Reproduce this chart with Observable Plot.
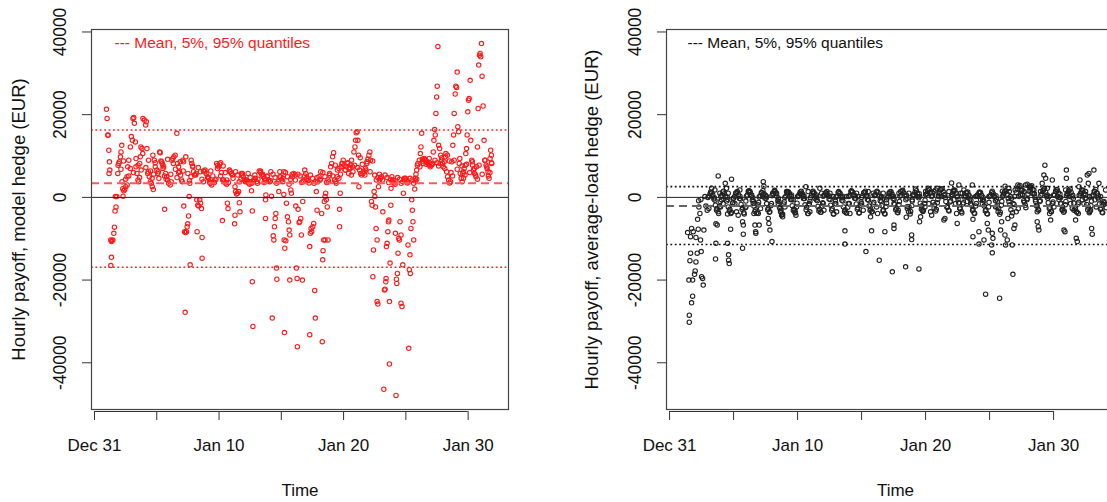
<!DOCTYPE html>
<html><head><meta charset="utf-8">
<script src="https://cdn.jsdelivr.net/npm/d3@7"></script>
<script src="https://cdn.jsdelivr.net/npm/@observablehq/plot@0.6"></script>
<style>
html,body{margin:0;padding:0;background:#fff;overflow:hidden;width:1107px;height:502px}
#wrap{position:relative;width:1107px;height:502px;overflow:hidden}
#left{position:absolute;left:0;top:0;width:555px;height:502px}
#right{position:absolute;left:555px;top:0;width:580px;height:502px}
#wrap svg{max-width:none !important;height:502px !important;font-family:"Liberation Sans",Arial,Helvetica,sans-serif}
</style></head><body><div id="wrap"><div id="left"></div><div id="right"></div></div>
<script>
// time = days since Dec 31 00:00 (hourly observations), payoff in EUR
const xTicks = [0, 5, 10, 15, 20, 25, 30];
const xTickLabels = ["Dec 31", "", "Jan 10", "", "Jan 20", "", "Jan 30"];
const yTicks = [-40000, -20000, 0, 20000, 40000];
const yTickLabels = ["-40000", "-20000", "0", "20000", "40000"];

const modelHedge = [[0.96,21300],[1.01,19100],[1.07,15000],[1.09,15100],[1.15,11400],[1.2,8600],[1.23,6600],[1.17,5800],[1.31,-10300],[1.36,-10700],[1.41,-10500],[1.47,-10300],[1.36,-14500],[1.31,-16500],[1.55,-8700],[1.6,-7200],[1.65,-3300],[1.73,-2300],[1.68,200],[1.79,200],[1.87,5800],[1.89,7800],[1.95,8200],[2.0,8600],[2.08,9800],[2.13,11000],[2.19,12600],[2.21,3800],[2.27,2100],[2.35,1600],[2.43,1900],[2.51,2600],[2.29,300],[2.61,5000],[2.67,7400],[2.75,9000],[2.88,12200],[2.96,14700],[3.04,13800],[3.09,19100],[3.15,19300],[3.2,17900],[3.28,13400],[3.33,7400],[3.41,5800],[3.49,4200],[3.55,3800],[3.63,8200],[3.68,9800],[3.73,12200],[3.81,11800],[3.89,19100],[4.0,18700],[4.11,17500],[4.16,18300],[4.21,11800],[4.27,5800],[4.32,6200],[4.4,5000],[4.48,3800],[4.56,3400],[4.64,2600],[4.72,1900],[4.69,10200],[4.8,9000],[4.88,7400],[5.01,6600],[5.09,5800],[5.17,4600],[5.23,11000],[5.28,10800],[5.39,8600],[5.44,8200],[5.49,7800],[5.55,7400],[5.63,-2900],[5.71,5800],[5.79,5000],[5.87,4200],[5.95,3400],[6.08,3000],[6.16,3800],[6.21,9000],[6.29,9400],[6.37,9800],[6.48,10200],[6.61,15500],[6.67,8200],[6.75,7400],[6.83,6200],[6.91,5400],[6.99,4200],[7.04,3800],[7.09,9000],[7.15,8600],[7.17,-2100],[7.23,-8300],[7.31,-8500],[7.39,-8300],[7.44,-7100],[7.49,-6400],[7.55,-4500],[7.28,-27800],[7.6,200],[7.65,3400],[7.68,-16300],[7.76,9000],[7.81,8200],[7.89,7400],[7.95,6200],[8.03,5400],[8.16,5800],[8.21,-600],[8.29,-1900],[8.37,-2100],[8.45,-600],[8.51,-1400],[8.59,-2700],[8.24,-8300],[8.64,-9700],[8.64,-14700],[8.75,6400],[8.85,6200],[8.96,5800],[9.07,5000],[9.15,4600],[9.23,3800],[9.28,3400],[9.33,3500],[9.41,3000],[9.55,3800],[9.68,4200],[9.81,8200],[9.89,7800],[9.97,7400],[10.05,8100],[10.13,8400],[10.19,6000],[10.27,-5600],[10.29,4200],[10.35,4200],[10.43,3800],[10.51,3500],[10.61,3200],[10.67,-1400],[10.72,-2700],[10.83,6600],[10.91,6200],[10.99,5800],[11.07,5400],[11.28,2600],[11.33,1400],[11.41,800],[11.49,1000],[11.57,1400],[11.28,-4300],[11.25,-6400],[11.63,-1300],[11.68,-3500],[11.79,5800],[11.87,5400],[11.95,5000],[12.03,4200],[12.11,3800],[12.21,4200],[12.29,3800],[12.37,3500],[12.45,3200],[12.53,3800],[12.61,1600],[12.67,-3300],[12.67,-20400],[12.72,-31200],[12.75,3800],[12.83,4200],[12.91,4600],[13.01,3800],[13.09,3400],[13.23,6400],[13.33,6000],[13.44,5400],[13.55,5000],[13.65,4600],[13.73,4200],[13.76,600],[13.73,-600],[13.73,-5100],[13.89,5000],[13.97,4200],[14.08,3800],[14.16,6200],[14.21,300],[14.27,-29200],[14.35,-9300],[14.4,-10300],[14.45,-7100],[14.51,-5100],[14.56,-3900],[14.61,-17100],[14.64,-19800],[14.8,1400],[14.88,6200],[14.96,5000],[15.04,4200],[15.12,3800],[15.2,6200],[15.2,700],[15.23,-10300],[15.28,-12300],[15.36,-10500],[15.25,-32700],[15.41,-1400],[15.49,-4700],[15.57,-5900],[15.63,-7900],[15.68,-9100],[15.68,-20000],[15.76,1800],[15.81,1000],[15.89,5000],[16.0,5800],[16.11,5400],[16.16,-2100],[16.21,-17100],[16.27,-19600],[16.29,-36100],[16.35,-2900],[16.43,-6100],[16.48,-5900],[16.56,-5100],[16.61,-9100],[16.69,-20000],[16.72,-1000],[16.75,3800],[16.88,6600],[16.96,5800],[17.04,4600],[17.15,4200],[17.23,3500],[17.28,-11900],[17.28,-33200],[17.33,-8700],[17.39,-7500],[17.44,-8300],[17.52,-7100],[17.6,-6300],[17.68,-22500],[17.73,-29200],[17.81,1400],[17.87,-3100],[17.92,3800],[18.03,5000],[18.11,4200],[18.16,6200],[18.24,-3900],[18.29,-34900],[18.32,-15100],[18.35,-12900],[18.4,-10300],[18.51,-10300],[18.45,-1000],[18.51,200],[18.56,1000],[18.61,-600],[18.69,-2300],[18.75,-10300],[18.8,3800],[18.88,5800],[18.96,7400],[19.04,8200],[19.12,9800],[19.2,10800],[19.28,4200],[19.36,3800],[19.41,3400],[19.49,5000],[19.63,7000],[19.68,-2900],[19.68,-7100],[19.73,1000],[19.81,7400],[19.89,8200],[19.97,9000],[20.05,7800],[20.13,6600],[20.21,7400],[20.32,8200],[20.4,5800],[20.48,7000],[20.56,7800],[20.64,9000],[20.72,7400],[20.83,11000],[20.91,12200],[20.96,13800],[21.01,15600],[21.09,15900],[21.15,13800],[21.2,10200],[21.23,2600],[21.28,6600],[21.36,5800],[21.44,5400],[21.55,5800],[21.63,6200],[21.71,5400],[21.79,6600],[21.87,8200],[21.95,9200],[22.03,10200],[22.11,11000],[22.16,9000],[22.24,-1000],[22.29,-1900],[22.35,-19200],[22.4,-12700],[22.45,1400],[22.51,200],[22.56,-2300],[22.61,-7500],[22.69,-10300],[22.69,-25200],[22.75,-25800],[22.8,2600],[22.88,4200],[22.96,4600],[23.04,5000],[23.15,-3500],[23.23,-46400],[23.28,-22400],[23.33,-22200],[23.39,-20400],[23.41,-19600],[23.44,-11900],[23.49,-11100],[23.55,-8300],[23.6,-5900],[23.63,-5500],[23.68,-40300],[23.68,-25200],[23.73,-15900],[23.79,-1900],[23.81,2200],[23.89,3800],[23.97,4200],[24.05,3500],[24.13,3200],[24.16,-8700],[24.21,-47900],[24.24,-19800],[24.27,-20800],[24.32,-18400],[24.37,-13500],[24.43,-9900],[24.48,-10300],[24.53,-5900],[24.61,-9100],[24.61,-25600],[24.69,-26400],[24.75,-16300],[24.8,1000],[24.88,4200],[24.96,4600],[25.04,4200],[25.12,3500],[25.17,-11500],[25.23,-36500],[25.28,-17500],[25.33,-13900],[25.36,-18400],[25.41,-7500],[25.47,-600],[25.52,-3100],[25.57,-5900],[25.63,-10300],[25.71,2000],[25.76,4600],[25.81,5600],[25.87,6600],[25.92,7800],[25.97,8200],[26.08,9000],[26.16,10600],[26.21,12200],[26.27,15500],[26.32,9200],[26.4,8200],[26.48,9400],[26.56,9000],[26.64,8600],[26.72,8400],[26.8,8200],[26.88,7800],[26.96,7400],[27.04,7800],[27.12,8200],[27.2,11000],[27.25,13800],[27.31,16400],[27.36,15100],[27.41,20300],[27.47,24300],[27.52,26900],[27.57,36500],[27.63,12600],[27.71,11800],[27.79,10200],[27.87,9000],[27.95,8200],[28.0,7400],[28.08,8600],[28.16,9800],[28.21,10600],[28.27,6200],[28.35,5000],[28.43,4200],[28.51,3500],[28.59,3800],[28.69,8600],[28.77,12600],[28.83,15100],[28.88,20300],[28.96,25000],[29.01,26900],[29.07,26600],[29.12,30300],[29.17,17100],[29.23,15900],[29.28,8200],[29.36,5800],[29.44,4600],[29.52,3800],[29.57,5800],[29.63,6200],[29.68,7000],[29.76,7800],[29.81,10600],[29.87,11800],[29.92,15100],[29.97,20700],[30.03,23500],[30.08,23900],[30.16,28300],[30.21,13800],[30.29,9000],[30.35,7800],[30.43,6600],[30.51,5800],[30.59,5400],[30.67,7400],[30.75,12200],[30.8,21500],[30.85,32000],[30.91,34400],[30.96,34800],[31.01,34000],[31.07,37200],[31.12,29300],[31.2,22100],[31.28,13800],[31.36,9000],[31.44,7800],[31.52,7000],[31.6,6200],[31.68,4600],[31.76,9400],[31.81,11400],[31.87,10200],[31.89,8200]];

// dense part of the model hedge payoffs: selected hours of each day
const modelBandDays = [2,3,4,5,6,7,8,9,10,11,12,13,14,15,16,17,18,19,20,21,22,23,24,25,26,27,28,29,30,31];
const modelBandHours = [3, 8, 12, 15, 18, 21];
const modelBandValues = [
  [6800,8800,4400,3000,5200,7000],
  [6000,9400,7800,4800,6600,10600],
  [7200,9000,6400,4600,5600,8400],
  [6200,8800,7000,5200,4400,9200],
  [5600,8200,6800,4800,6000,8600],
  [6400,9800,5800,4000,5000,7600],
  [5400,7200,6200,4400,3800,6600],
  [4800,6400,5200,3600,4400,7000],
  [5200,7600,6000,4200,3600,6200],
  [4600,6200,5400,3800,4400,5800],
  [4200,5800,4800,3400,4000,5400],
  [4400,6400,5600,3600,4200,5200],
  [4000,5600,4800,3400,3800,5000],
  [4600,6000,5000,3200,4400,5600],
  [4200,5600,5200,3600,4000,5200],
  [4000,5400,4600,3400,3800,4800],
  [4400,6000,5000,3600,4200,5400],
  [5200,7800,6600,4600,5600,8200],
  [6600,8400,7200,5400,6200,7800],
  [7200,9600,8000,6200,7000,8600],
  [6200,8800,5400,4200,4800,5600],
  [4200,5400,4800,3600,4400,5000],
  [4000,4800,4400,3400,3800,4600],
  [3800,4600,4200,3400,4000,4400],
  [7400,8800,9200,8000,8600,9400],
  [8000,9000,8400,7600,8200,9600],
  [7000,10200,8800,6000,5200,9000],
  [6800,9400,7600,4600,5400,8000],
  [6000,8600,7000,5000,4400,7800],
  [5600,9000,7400,5200,6000,8400]
];

const avgHedge = [[1.54,-30200],[1.54,-28500],[1.72,-25500],[1.8,-23900],[1.51,-20000],[1.8,-20000],[1.95,-18600],[2.0,-17800],[2.5,-19200],[2.58,-19600],[2.63,-21200],[1.59,-15300],[2.06,-15600],[1.64,-13500],[2.16,-13500],[2.47,-13100],[1.41,-8500],[1.64,-9500],[1.85,-8300],[1.72,-7500],[2.06,-9700],[2.24,-7700],[2.42,-10300],[2.68,-7900],[2.19,-5300],[2.37,-3900],[2.29,-2300],[2.45,-500],[2.27,-800],[2.76,200],[2.84,-2100],[2.94,-3100],[3.07,-2700],[3.28,2200],[3.54,1800],[3.8,5200],[3.62,-6400],[3.72,-6700],[3.62,-11100],[3.59,-14900],[3.93,1000],[4.06,-600],[3.98,-2300],[4.19,-1500],[4.35,3400],[4.45,2200],[4.58,1000],[4.84,4400],[4.53,-4000],[4.77,-7700],[4.53,-11100],[4.61,-13900],[4.61,-15200],[4.66,-16000],[4.97,-200],[5.1,-1500],[5.23,-3500],[5.36,-4300],[5.49,1800],[5.7,-5900],[5.76,-6700],[5.76,-8900],[5.7,-12300],[5.96,-2300],[6.15,1400],[6.28,1400],[6.41,600],[6.54,-1500],[6.59,-3900],[6.67,-6700],[6.74,-8700],[6.72,-8300],[6.93,-3900],[7.0,-6700],[7.11,-2700],[7.32,3800],[7.37,2700],[7.27,200],[7.58,200],[7.71,-5100],[7.76,-6300],[7.84,-7900],[8.0,-10700],[8.05,1000],[8.23,1400],[8.36,1000],[8.49,-1500],[8.62,-2700],[8.75,-4300],[8.83,-4700],[9.01,-2300],[9.14,1400],[9.35,1000],[9.53,600],[9.66,-600],[9.79,-3100],[9.87,-4300],[10.05,200],[10.31,1000],[10.44,200],[10.65,2600],[10.83,1400],[10.91,-1500],[10.96,-3500],[11.22,1000],[11.35,-200],[11.48,600],[11.74,2200],[11.88,1000],[12.0,-1500],[12.06,-3100],[12.27,600],[12.53,1000],[12.79,200],[12.99,-1500],[13.05,-3500],[13.31,1000],[13.52,300],[13.7,-8100],[13.7,-11300],[13.83,200],[14.04,-1500],[14.09,-3900],[14.35,600],[14.61,1000],[14.74,200],[15.0,-1500],[15.13,-3100],[15.34,-13100],[15.39,200],[15.52,1400],[15.7,-4700],[15.78,-8100],[15.91,1000],[16.04,600],[16.17,-2300],[16.25,-3900],[16.38,-15200],[16.56,200],[16.69,1000],[16.82,-8300],[16.95,-600],[17.14,1000],[17.4,200],[17.53,-1500],[17.4,-18000],[17.53,-6700],[17.53,-7500],[17.86,-3100],[17.92,1000],[18.05,1400],[18.44,-16800],[18.49,-4800],[18.57,-2700],[18.7,1000],[18.91,-9100],[18.91,-10200],[18.96,-600],[19.09,600],[19.35,200],[19.48,-17300],[19.53,-5900],[19.61,-4700],[19.74,-3100],[19.95,-2300],[20.0,1400],[20.13,1000],[20.26,-1500],[20.39,-3500],[20.47,-4300],[20.65,1400],[20.78,1800],[20.91,2200],[21.04,200],[21.25,200],[21.43,-5500],[21.51,-5100],[21.69,-2300],[21.82,1400],[22.03,3500],[22.08,600],[22.21,1800],[22.34,-1500],[22.42,-3900],[22.47,-6300],[22.6,3000],[22.73,1000],[22.86,1000],[22.99,1800],[23.13,200],[23.26,-1000],[23.52,-1500],[23.65,3000],[23.7,-5300],[23.7,-9500],[23.91,200],[24.04,600],[24.17,-8300],[24.17,-11300],[24.3,-600],[24.43,-1500],[24.56,-10300],[24.69,-23400],[24.82,-6300],[24.9,-7900],[24.95,200],[25.16,-11500],[25.21,-13400],[25.21,-8700],[25.26,-9900],[25.34,200],[25.47,-2300],[25.6,-1000],[25.78,-24400],[25.86,-7900],[25.94,-5900],[26.0,200],[26.12,1000],[26.2,-9100],[26.25,-11500],[26.38,-10300],[26.43,-5100],[26.51,-1000],[26.64,200],[26.72,-4500],[26.82,-18600],[26.77,-11500],[26.9,-7500],[26.98,-6700],[27.08,-3500],[27.24,-2700],[27.29,200],[27.42,600],[27.55,1800],[27.68,1400],[27.81,3000],[27.94,3200],[28.07,2700],[28.2,2600],[28.33,1000],[28.46,1800],[28.59,-1000],[28.72,-3500],[28.72,-5900],[28.8,-7100],[28.85,-7900],[28.98,1400],[29.11,3400],[29.24,5400],[29.32,7800],[29.38,4600],[29.51,2200],[29.64,200],[29.69,-3900],[29.77,-5500],[29.9,4200],[30.03,-2300],[30.16,1400],[30.29,200],[30.42,-600],[30.55,-1500],[30.68,-3100],[30.81,-7900],[30.89,-8300],[30.94,1800],[31.0,6600],[31.0,4600],[31.07,1000],[31.2,200],[31.33,-1500],[31.46,-2700],[31.59,-3100],[31.72,-5500],[31.77,-9900],[31.85,-10700],[31.93,-3900],[31.98,2600],[32.06,4200],[32.11,1000],[32.24,-600],[32.37,-1500],[32.5,1400],[32.63,5400],[32.71,3400],[32.76,5800],[32.81,200],[32.89,-3100],[32.97,-7500],[33.02,-8900],[33.15,6600],[33.23,-600],[33.33,-2300],[33.41,1000],[33.54,3400],[33.67,200],[33.8,-1500],[33.93,-1000],[34.06,1800],[34.12,-2500]];

// dense part of the average-load hedge payoffs: selected hours of each day
const avgBandDays = [3,4,5,6,7,8,9,10,11,12,13,14,15,16,17,18,19,20,21,22,23,24,25,26,27,28,29,30,31,32,33];
const avgBandHours = [2, 4, 7, 9, 11, 14, 16, 19, 22];
const avgBandValues = [
  [300,900,1100,600,-400,-1900,-3100,-3500,-2200],
  [500,1300,900,200,-900,-2300,-3300,-3900,-1400],
  [200,1000,1400,700,-300,-1700,-2900,-3700,-2500],
  [600,1500,1200,400,-700,-2100,-3400,-3800,-1800],
  [400,1100,1600,900,-200,-1500,-3000,-3600,-2000],
  [700,1400,1000,300,-800,-2400,-3500,-4100,-1600],
  [300,1200,1300,500,-500,-2000,-3200,-3700,-2300],
  [500,900,1500,800,-300,-1800,-3000,-3900,-1700],
  [400,1300,1100,400,-600,-2200,-3300,-3600,-2100],
  [600,1000,1400,600,-400,-1900,-3100,-4000,-1500],
  [300,1200,1000,200,-700,-2300,-3400,-3700,-2400],
  [500,1400,1300,700,-200,-1600,-2900,-3800,-1900],
  [400,1100,1500,500,-500,-2100,-3200,-3500,-1600],
  [700,1300,1200,300,-800,-2000,-3300,-3900,-2200],
  [200,1000,1400,800,-300,-1700,-3000,-3600,-1800],
  [500,1500,1100,400,-600,-2200,-3500,-4000,-2000],
  [600,1200,1600,900,-100,-1400,-2800,-3400,-1500],
  [800,1600,1900,1200,200,-1200,-2600,-3300,-1300],
  [900,1800,2100,1400,400,-1000,-2400,-3100,-1100],
  [700,1500,1700,1000,100,-1300,-2700,-3400,-1600],
  [400,1100,1300,600,-400,-1900,-3200,-3800,-2100],
  [300,1000,1200,500,-600,-2100,-3300,-3900,-2300],
  [500,1200,900,300,-800,-2300,-3500,-4100,-1900],
  [600,1300,1500,800,-300,-1800,-3000,-3700,-1700],
  [1200,2000,2600,2900,1800,600,-800,-1900,-600],
  [1500,2400,2800,1900,800,-600,-2000,-2900,-1000],
  [800,1600,2200,1300,200,-1300,-2700,-3400,-1500],
  [600,1400,1800,1100,0,-1500,-2900,-3600,-1800],
  [700,1500,2000,1200,100,-1400,-2800,-3500,-1600],
  [500,1300,1700,900,-200,-1700,-3000,-3700,-2000],
  [600,1400,1900,1000,-100,-1600,-2900,-3600,-1700]
];
const avgBandHours2 = [0, 5, 12, 13, 17, 20, 23];
const avgBandValues2 = [
  [0,1300,-100,-700,-2700,-3900,-1000],
  [200,1500,100,-500,-2900,-3600,-1300],
  [-200,1100,300,-400,-2500,-4000,-900],
  [300,1600,0,-900,-3000,-3800,-1200],
  [100,1200,500,-200,-2600,-3500,-1500],
  [400,1700,-200,-1000,-3100,-4100,-1100],
  [0,1400,200,-600,-2800,-3700,-1400],
  [200,1300,400,-300,-2400,-3900,-1000],
  [-100,1500,0,-800,-2900,-3600,-1300],
  [300,1100,300,-500,-2700,-4000,-900],
  [100,1400,-100,-900,-3000,-3800,-1500],
  [200,1600,400,-300,-2500,-3700,-1100],
  [0,1200,200,-700,-2800,-3500,-1200],
  [400,1500,-100,-1000,-3100,-4000,-1400],
  [-100,1300,300,-400,-2600,-3700,-1000],
  [300,1700,500,-200,-2300,-3400,-900],
  [600,2000,900,200,-2000,-3100,-700],
  [700,2200,1100,400,-1800,-2900,-500],
  [500,1900,700,0,-2200,-3300,-900],
  [200,1400,300,-500,-2700,-3800,-1300],
  [100,1200,100,-700,-2900,-3900,-1500],
  [300,1300,0,-900,-3000,-4000,-1200],
  [200,1500,400,-400,-2600,-3600,-1000],
  [1500,2700,2200,1400,-200,-1500,200],
  [1800,3000,1600,700,-1200,-2500,-300],
  [800,2000,900,100,-2100,-3100,-800],
  [500,1800,600,-200,-2400,-3500,-1100],
  [600,1900,800,-100,-2300,-3300,-1000],
  [400,1600,500,-300,-2500,-3600,-1200],
  [500,1800,700,-200,-2400,-3400,-900],
  [300,1500,400,-400,-2600,-3700,-1300]
];

// reference lines: mean, 5% quantile, 95% quantile
const modelMean = 3400, modelQ05 = -16900, modelQ95 = 16300;
const avgMean = -2100, avgQ05 = -11400, avgQ95 = 2600;

function expand(days, hours, values) {
  const out = [];
  days.forEach((d, i) => hours.forEach((h, j) => out.push([d + h / 24, values[i][j]])));
  return out;
}
const modelAll = modelHedge.concat(expand(modelBandDays, modelBandHours, modelBandValues));
const avgAll = avgHedge
  .concat(expand(avgBandDays, avgBandHours, avgBandValues))
  .concat(expand(avgBandDays, avgBandHours2, avgBandValues2));

const FONT = '"Liberation Sans", Arial, Helvetica, sans-serif';
const Y_DOMAIN = [-51300, 40600];

function panel(o) {
  return Plot.plot({
    width: o.width, height: 502,
    marginLeft: o.ml, marginRight: o.mr, marginTop: 29, marginBottom: 93,
    x: {domain: o.xDomain, axis: null},
    y: {domain: Y_DOMAIN, axis: null},
    style: {background: "transparent", fontFamily: FONT, overflow: "visible"},
    marks: [
      Plot.dot(o.data, {x: d => d[0], y: d => d[1], r: 2.2, stroke: o.pointColor, strokeWidth: 1.1, fill: "none"}),
      Plot.ruleY([0], {stroke: "#222", strokeWidth: 1}),
      Plot.ruleY([o.mean], {stroke: o.meanColor, strokeWidth: 2, strokeDasharray: "8,5"}),
      Plot.ruleY([o.q05, o.q95], {stroke: o.qColor, strokeWidth: 1.6, strokeDasharray: "1.8,2.6"}),
      Plot.frame({stroke: "#444", strokeWidth: 1.2}),
      Plot.axisY({ticks: yTicks, tickSize: 9, tickFormat: () => "", label: null, stroke: "#333"}),
      Plot.axisX({ticks: xTicks, tickSize: 9, tickFormat: () => "", label: null, stroke: "#333", dy: 2}),
      Plot.ruleY([Y_DOMAIN[0]], {x1: 0, x2: 30, dy: 2, stroke: "#333"}),
      Plot.text(yTicks, {y: d => d, text: (d, i) => yTickLabels[i], frameAnchor: "left", dx: -31, rotate: -90, textAnchor: "middle", lineAnchor: "middle", fontSize: 17.5, fill: "#111"}),
      Plot.text(xTicks, {x: d => d, text: (d, i) => xTickLabels[i], frameAnchor: "bottom", dy: 36, textAnchor: "middle", lineAnchor: "middle", fontSize: 17, fill: "#111"}),
      Plot.text(["Time"], {frameAnchor: "bottom", dy: 81, textAnchor: "middle", lineAnchor: "middle", fontSize: 17, fill: "#111"}),
      Plot.text([o.ylabel], {frameAnchor: "left", dx: o.titleDx, rotate: -90, textAnchor: "middle", lineAnchor: "middle", fontSize: 18.5, fill: "#111"}),
      Plot.text(["--- Mean, 5%, 95% quantiles"], {frameAnchor: "top-left", dx: o.legendDx, dy: 14, textAnchor: "start", lineAnchor: "middle", fontSize: 15.5, fill: o.legendColor})
    ]
  });
}

document.getElementById("left").append(panel({
  width: 555, ml: 91, mr: 47, xDomain: [-0.24, 33.24],
  data: modelAll, pointColor: "#ff1a1a",
  mean: modelMean, q05: modelQ05, q95: modelQ95,
  meanColor: "#ff5a5a", qColor: "#ff2020", legendColor: "#ff1a1a",
  ylabel: "Hourly payoff, model hedge (EUR)", titleDx: -72, legendDx: 23
}));

document.getElementById("right").append(panel({
  width: 580, ml: 111, mr: 11, xDomain: [-0.24, 35.54],
  data: avgAll, pointColor: "#222",
  mean: avgMean, q05: avgQ05, q95: avgQ95,
  meanColor: "#666", qColor: "#111", legendColor: "#111",
  ylabel: "Hourly payoff, average-load hedge (EUR)", titleDx: -74, legendDx: 21
}));
</script></body></html>
